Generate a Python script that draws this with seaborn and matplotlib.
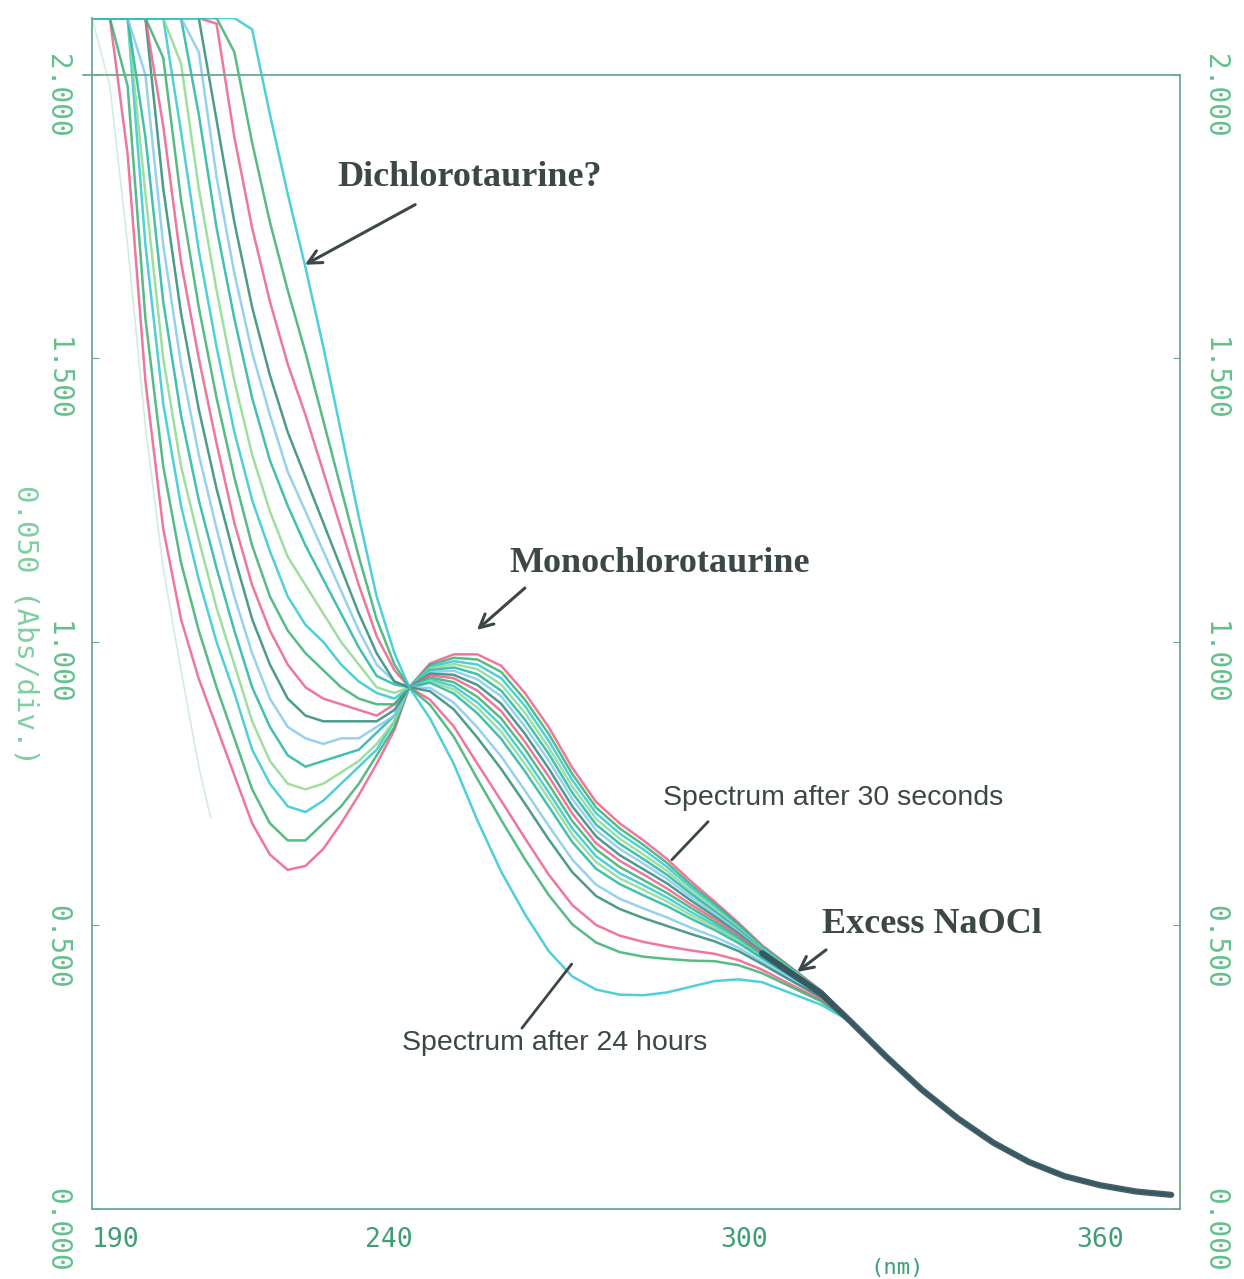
import pandas as pd
import seaborn as sns
import matplotlib
matplotlib.use('Agg')
import matplotlib.pyplot as plt
from matplotlib.transforms import ScaledTranslation

# wavelength grid (nm), up to where all scans merge
wavelength_nm = [190, 193, 196, 199, 202, 205, 208, 211, 214, 217, 220, 223, 226, 229, 232, 235, 238, 241,
                 243.5, 247, 251, 255, 259, 263, 267, 271, 275, 279, 283, 287, 291, 295, 299, 303, 308, 313]

# past ~315 nm every scan lies on the same line
tail_nm = [318, 324, 330, 336, 342, 348, 354, 360, 366, 372]
tail_abs = [0.33, 0.268, 0.21, 0.16, 0.117, 0.083, 0.058, 0.042, 0.031, 0.025]

# absorbance of each scan (30 s first, 24 h last); 2.1 = top of the recorder
spec_00 = [2.1, 2.1, 1.86, 1.46, 1.2, 1.04, 0.935, 0.85, 0.765, 0.68, 0.625, 0.598, 0.605, 0.635, 0.68, 0.73, 0.785, 0.845,
           0.92, 0.962, 0.978, 0.978, 0.958, 0.91, 0.85, 0.778, 0.718, 0.68, 0.65, 0.617, 0.578, 0.542, 0.505, 0.465, 0.425, 0.385]
spec_01 = [2.1, 2.1, 1.98, 1.57, 1.31, 1.14, 1.02, 0.92, 0.83, 0.74, 0.68, 0.65, 0.65, 0.68, 0.71, 0.75, 0.80, 0.85,
           0.92, 0.959, 0.972, 0.969, 0.947, 0.898, 0.838, 0.767, 0.708, 0.671, 0.642, 0.610, 0.572, 0.538, 0.502, 0.463, 0.424, 0.384]
spec_02 = [2.1, 2.1, 2.1, 1.70, 1.42, 1.24, 1.11, 1.0, 0.91, 0.81, 0.75, 0.71, 0.70, 0.72, 0.75, 0.78, 0.81, 0.86,
           0.92, 0.956, 0.966, 0.960, 0.936, 0.887, 0.826, 0.756, 0.698, 0.662, 0.634, 0.603, 0.567, 0.534, 0.499, 0.461, 0.422, 0.384]
spec_03 = [2.1, 2.1, 2.1, 1.79, 1.50, 1.31, 1.18, 1.06, 0.96, 0.86, 0.79, 0.75, 0.74, 0.75, 0.77, 0.79, 0.82, 0.86,
           0.92, 0.953, 0.961, 0.952, 0.925, 0.875, 0.814, 0.745, 0.688, 0.653, 0.625, 0.596, 0.561, 0.529, 0.496, 0.459, 0.421, 0.383]
spec_04 = [2.1, 2.1, 2.1, 1.89, 1.60, 1.40, 1.25, 1.13, 1.02, 0.92, 0.85, 0.80, 0.78, 0.79, 0.80, 0.81, 0.84, 0.87,
           0.92, 0.950, 0.955, 0.943, 0.914, 0.863, 0.803, 0.734, 0.678, 0.644, 0.617, 0.589, 0.556, 0.525, 0.493, 0.457, 0.420, 0.382]
spec_05 = [2.1, 2.1, 2.1, 2.0, 1.70, 1.49, 1.33, 1.20, 1.08, 0.98, 0.90, 0.85, 0.83, 0.82, 0.83, 0.83, 0.85, 0.87,
           0.92, 0.947, 0.949, 0.934, 0.904, 0.851, 0.791, 0.723, 0.668, 0.635, 0.609, 0.582, 0.550, 0.521, 0.490, 0.455, 0.418, 0.381]
spec_06 = [2.1, 2.1, 2.1, 2.1, 1.80, 1.58, 1.41, 1.27, 1.15, 1.04, 0.96, 0.90, 0.87, 0.86, 0.86, 0.86, 0.86, 0.88,
           0.92, 0.944, 0.942, 0.924, 0.891, 0.838, 0.777, 0.710, 0.657, 0.624, 0.599, 0.574, 0.544, 0.516, 0.486, 0.453, 0.417, 0.380]
spec_07 = [2.1, 2.1, 2.1, 2.1, 1.91, 1.67, 1.50, 1.35, 1.21, 1.10, 1.02, 0.96, 0.92, 0.90, 0.89, 0.88, 0.87, 0.89,
           0.92, 0.941, 0.936, 0.914, 0.878, 0.824, 0.763, 0.697, 0.645, 0.614, 0.590, 0.565, 0.537, 0.511, 0.483, 0.451, 0.415, 0.380]
spec_08 = [2.1, 2.1, 2.1, 2.1, 2.03, 1.78, 1.59, 1.43, 1.29, 1.17, 1.08, 1.02, 0.98, 0.95, 0.92, 0.90, 0.89, 0.89,
           0.92, 0.937, 0.929, 0.903, 0.865, 0.811, 0.749, 0.684, 0.634, 0.603, 0.580, 0.557, 0.531, 0.506, 0.479, 0.448, 0.414, 0.379]
spec_09 = [2.1, 2.1, 2.1, 2.1, 2.1, 1.90, 1.69, 1.52, 1.37, 1.25, 1.16, 1.08, 1.03, 1.0, 0.96, 0.93, 0.91, 0.90,
           0.92, 0.934, 0.922, 0.893, 0.853, 0.797, 0.735, 0.671, 0.622, 0.592, 0.571, 0.549, 0.524, 0.501, 0.476, 0.446, 0.412, 0.378]
spec_10 = [2.1, 2.1, 2.1, 2.1, 2.1, 2.02, 1.80, 1.62, 1.46, 1.33, 1.23, 1.15, 1.10, 1.05, 1.0, 0.96, 0.92, 0.91,
           0.92, 0.931, 0.916, 0.884, 0.842, 0.785, 0.724, 0.660, 0.612, 0.583, 0.563, 0.542, 0.518, 0.497, 0.473, 0.444, 0.411, 0.377]
spec_11 = [2.1, 2.1, 2.1, 2.1, 2.1, 2.1, 1.93, 1.73, 1.57, 1.43, 1.32, 1.24, 1.17, 1.11, 1.05, 0.99, 0.94, 0.925,
           0.92, 0.928, 0.909, 0.874, 0.829, 0.772, 0.710, 0.647, 0.600, 0.573, 0.553, 0.534, 0.512, 0.492, 0.469, 0.442, 0.409, 0.376]
spec_12 = [2.1, 2.1, 2.1, 2.1, 2.1, 2.1, 2.04, 1.82, 1.65, 1.51, 1.40, 1.30, 1.23, 1.16, 1.09, 1.02, 0.96, 0.93,
           0.92, 0.919, 0.893, 0.849, 0.798, 0.738, 0.676, 0.616, 0.572, 0.547, 0.530, 0.514, 0.496, 0.480, 0.461, 0.436, 0.405, 0.374]
spec_13 = [2.1, 2.1, 2.1, 2.1, 2.1, 2.1, 2.1, 1.92, 1.74, 1.59, 1.47, 1.37, 1.29, 1.21, 1.13, 1.05, 0.98, 0.93,
           0.92, 0.913, 0.881, 0.831, 0.776, 0.715, 0.652, 0.594, 0.552, 0.529, 0.513, 0.499, 0.485, 0.472, 0.455, 0.432, 0.402, 0.373]
spec_14 = [2.1, 2.1, 2.1, 2.1, 2.1, 2.1, 2.1, 2.09, 1.89, 1.73, 1.60, 1.49, 1.40, 1.30, 1.20, 1.10, 1.01, 0.95,
           0.92, 0.898, 0.851, 0.785, 0.720, 0.654, 0.590, 0.536, 0.501, 0.482, 0.471, 0.463, 0.456, 0.450, 0.439, 0.422, 0.395, 0.369]
spec_15 = [2.1, 2.1, 2.1, 2.1, 2.1, 2.1, 2.1, 2.1, 2.04, 1.88, 1.74, 1.62, 1.51, 1.39, 1.27, 1.15, 1.04, 0.96,
           0.92, 0.889, 0.833, 0.758, 0.686, 0.617, 0.554, 0.502, 0.470, 0.453, 0.445, 0.441, 0.438, 0.437, 0.430, 0.416, 0.391, 0.366]
spec_16 = [2.1, 2.1, 2.1, 2.1, 2.1, 2.1, 2.1, 2.1, 2.1, 2.08, 1.93, 1.79, 1.66, 1.52, 1.37, 1.22, 1.08, 0.98,
           0.92, 0.865, 0.785, 0.685, 0.595, 0.52, 0.455, 0.41, 0.387, 0.378, 0.377, 0.382, 0.392, 0.402, 0.405, 0.40, 0.38, 0.36]

# faint partial trace at far left
faint_nm = [190, 193, 196, 199, 202, 205, 208, 210]
faint_abs = [2.1, 1.98, 1.70, 1.38, 1.13, 0.95, 0.78, 0.69]

spectra = [spec_00, spec_01, spec_02, spec_03, spec_04, spec_05, spec_06, spec_07, spec_08,
           spec_09, spec_10, spec_11, spec_12, spec_13, spec_14, spec_15, spec_16]

x_ticks = [190, 240, 300, 360]
x_tick_labels = ['190', '240', '300', '360']
y_ticks = [0.0, 0.5, 1.0, 1.5, 2.0]
y_tick_labels = ['0.000', '0.500', '1.000', '1.500', '2.000']

pen_colors = ['#ec5f8c', '#3aaf70', '#2fc7d3', '#8fd98f', '#22b5a0', '#86c8ee', '#2d8a78']
axis_col = '#6aa98a'
ink = '#3b4847'

# long-form table: one row per point per scan
rows = []
for i, spec in enumerate(spectra):
    for nm, a in zip(wavelength_nm + tail_nm, spec + tail_abs):
        rows.append({'nm': nm, 'absorbance': a, 'scan': f'scan{i:02d}'})
df = pd.DataFrame(rows)
scan_order = [f'scan{i:02d}' for i in range(len(spectra))]
palette = [pen_colors[i % len(pen_colors)] for i in range(len(spectra))]

sns.set_style('white')
plt.rcParams['font.family'] = ['DejaVu Sans Mono', 'DejaVu Sans']

fig = plt.figure(figsize=(12.44, 12.79), dpi=100)
ax = fig.add_axes([0.0740, 0.0547, 0.8746, 0.9312])

sns.lineplot(x=faint_nm, y=faint_abs, color='#9fd8b0', lw=1.2, alpha=0.45, ax=ax)
sns.lineplot(data=df, x='nm', y='absorbance', hue='scan', hue_order=scan_order, palette=palette,
             estimator=None, legend=False, lw=1.8, alpha=0.85, ax=ax)

# merged part of the scans looks like one thick dark pen stroke
mid = spectra[7]
band_x = wavelength_nm[-3:] + tail_nm
band_y = mid[-3:] + tail_abs
sns.lineplot(x=band_x, y=band_y, color='#34505a', lw=4.5, alpha=0.9, ax=ax)

ax.set_xlim(190, 373.5)
ax.set_ylim(0, 2.1)

# frame: no top spine, right spine stops at 2.000, rule across at 2.000
ax.spines['top'].set_visible(False)
for side in ['left', 'bottom', 'right']:
    ax.spines[side].set_color(axis_col)
    ax.spines[side].set_linewidth(1.3)
ax.spines['right'].set_bounds(0, 2.0)
ax.axhline(2.0, xmin=-0.008, xmax=1.0, color=axis_col, lw=1.3, clip_on=False)

ax.set_xticks(x_ticks)
ax.set_xticklabels(x_tick_labels)
ax.set_yticks(y_ticks)
ax.set_yticklabels(y_tick_labels)
ax.tick_params(axis='x', direction='in', length=5, color=axis_col, labelsize=19,
               labelcolor='#3f9f74', pad=13)
ax.tick_params(axis='y', direction='in', length=5, color=axis_col, left=True, right=True,
               labelleft=True, labelright=True, labelrotation=-90, labelsize=20,
               labelcolor='#63c08c', pad=15)
ax.get_xticklabels()[0].set_ha('left')

shift = ScaledTranslation(0, -21 / 100, fig.dpi_scale_trans)
for t in ax.yaxis.get_major_ticks():
    for lab in (t.label1, t.label2):
        lab.set_va('center')
        lab.set_transform(lab.get_transform() + shift)

ax.set_xlabel('(nm)', fontsize=16, color='#3f9f74')
ax.xaxis.set_label_coords(0.74, -0.041)
ax.set_ylabel('0.050 (Abs/div.)', rotation=-90, fontsize=21, color='#7fcfa0', va='center')
ax.yaxis.set_label_coords(-0.0616, 0.49)

# annotations
bold = dict(family='Liberation Serif', fontweight='bold', fontsize=26, color=ink, ha='center', va='center')
plain = dict(family='Liberation Sans', fontsize=20.5, color=ink, ha='center', va='center')
arrow = dict(arrowstyle='->', color=ink, lw=2.2, mutation_scale=24, shrinkA=0, shrinkB=0)
stick = dict(arrowstyle='-', color=ink, lw=2.0, shrinkA=0, shrinkB=0)

ax.text(253.7, 1.818, 'Dichlorotaurine?', **bold)
ax.annotate('', xy=(225.9, 1.665), xytext=(244.5, 1.771), arrowprops=arrow)
ax.text(285.8, 1.139, 'Monochlorotaurine', **bold)
ax.annotate('', xy=(254.9, 1.021), xytext=(263.0, 1.095), arrowprops=arrow)
ax.text(315.0, 0.725, 'Spectrum after 30 seconds', **plain)
ax.annotate('', xy=(287.8, 0.616), xytext=(293.9, 0.683), arrowprops=stick)
ax.text(331.7, 0.501, 'Excess NaOCl', **bold)
ax.annotate('', xy=(308.9, 0.418), xytext=(313.8, 0.457), arrowprops=arrow)
ax.text(268.1, 0.293, 'Spectrum after 24 hours', **plain)
ax.annotate('', xy=(270.9, 0.432), xytext=(262.5, 0.319), arrowprops=stick)

fig.savefig('out.png', dpi=100)
